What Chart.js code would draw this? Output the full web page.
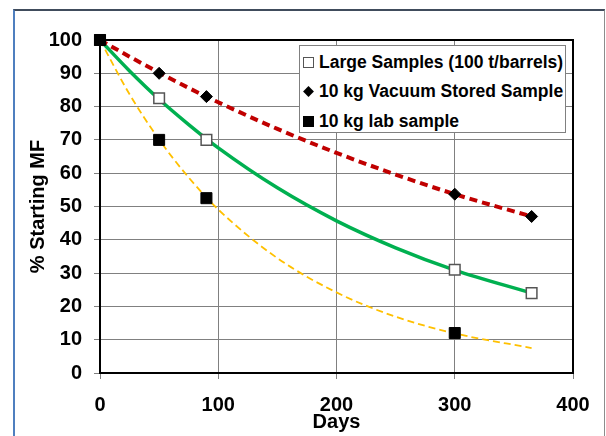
<!DOCTYPE html>
<html>
<head>
<meta charset="utf-8">
<script src="https://cdn.jsdelivr.net/npm/chart.js@4.4.1/dist/chart.umd.min.js"></script>
<style>
    body { margin: 0; background: #fff; }
    #wrap { position: relative; width: 606px; height: 436px; overflow: hidden; }
    #frame { position: absolute; left: 13px; top: 9px; width: 592px; height: 440px; box-sizing: border-box;
             border-left: 2px solid #4f7fbf; border-top: 2px solid #404c5c; border-right: 1px solid #8c8c8c; }
    #chart { position: absolute; left: 0; top: 0; }
    #legend { position: absolute; left: 299px; top: 45px; width: 267px; height: 88px; box-sizing: border-box;
              border: 1px solid #808080; background: #fff;
              font: bold 17.5px "Liberation Sans", Arial, sans-serif; color: #000; }
    .row { position: absolute; left: 3px; height: 22px; display: flex; align-items: center; white-space: nowrap; }
    .mk { width: 11px; height: 11px; margin-right: 5px; box-sizing: border-box; flex: none; }
</style>
</head>
<body>
<div id="wrap">
    <div id="frame"></div>
    <canvas id="chart" width="606" height="436"></canvas>
    <div id="legend"></div>
</div>
<script>
// measured points (days, % starting MF)
const days = [0, 50, 90, 300, 365];
const largeSamples = [100, 82.5, 70, 31, 24];
const vacuumSample = [100, 90, 83, 53.7, 47];
const labDays = [0, 50, 90, 300];
const labSample = [100, 70, 52.5, 12];

// trendlines
const trendDays = [0, 25, 50, 75, 100, 150, 200, 250, 300, 365];
const largeTrend = [100, 90.7, 82.2, 74.6, 67.6, 55.6, 45.7, 37.6, 30.9, 24];
const vacuumTrend = [100, 95, 90.2, 85.6, 81.3, 73.3, 66.1, 59.6, 53.7, 47];
const labTrend = [100, 83.7, 70.1, 58.7, 49.1, 34.5, 24.2, 16.9, 11.9, 7.5];

const labels = ['Large Samples (100 t/barrels)', '10 kg Vacuum Stored Sample', '10 kg lab sample'];

const xTicks = [0, 100, 200, 300, 400];
const yTicks = [0, 10, 20, 30, 40, 50, 60, 70, 80, 90, 100];

const pts = (xs, ys) => xs.map((x, i) => ({ x: x, y: ys[i] }));
const font = { family: '"Liberation Sans", Arial, sans-serif', size: 20, weight: 'bold' };

const plotBorder = {
    id: 'plotBorder',
    beforeDatasetsDraw(chart) {
        const a = chart.chartArea;
        const c = chart.ctx;
        c.save();
        c.strokeStyle = '#000';
        c.lineWidth = 2;
        c.strokeRect(a.left, a.top, a.right - a.left, a.bottom - a.top);
        c.restore();
    }
};

function trend(data, color, width, dash) {
    return {
        data: data, showLine: true, borderColor: color, borderWidth: width, borderDash: dash,
        pointRadius: 0, cubicInterpolationMode: 'monotone', fill: false, order: 5, clip: false
    };
}

const chart = new Chart(document.getElementById('chart').getContext('2d'), {
    type: 'scatter',
    data: {
        datasets: [
            { label: labels[2], data: pts(labDays, labSample), pointStyle: 'rect', pointRadius: 7.8,
              backgroundColor: '#000', borderColor: '#000', borderWidth: 1, order: 0, clip: false },
            { label: labels[1], data: pts(days, vacuumSample), pointStyle: 'rectRot', pointRadius: 6,
              backgroundColor: '#000', borderColor: '#000', borderWidth: 1, order: 1, clip: false },
            { label: labels[0], data: pts(days, largeSamples), pointStyle: 'rect', pointRadius: 7.5,
              backgroundColor: '#fff', borderColor: '#555', borderWidth: 1.5, order: 2, clip: false },
            trend(pts(trendDays, vacuumTrend), '#c00000', 4, [8, 5]),
            trend(pts(trendDays, largeTrend), '#00b050', 3.5, []),
            trend(pts(trendDays, labTrend), '#ffc000', 1.8, [7, 4])
        ]
    },
    options: {
        responsive: false,
        animation: false,
        layout: { padding: { left: 26, right: 33, top: 40, bottom: 0 } },
        plugins: { legend: { display: false }, tooltip: { enabled: false } },
        scales: {
            x: {
                type: 'linear', min: 0, max: 400,
                afterFit: s => { s.height = 63; },
                afterBuildTicks: s => { s.ticks = xTicks.map(v => ({ value: v })); },
                ticks: { padding: 14, color: '#000', font: font },
                grid: { color: '#808080', tickColor: '#808080', tickLength: 6 },
                border: { display: false },
                title: { display: true, text: 'Days', color: '#000', font: font, padding: { top: 0, bottom: 2 } }
            },
            y: {
                min: 0, max: 100,
                afterFit: s => { s.width = 74; },
                afterBuildTicks: s => { s.ticks = yTicks.map(v => ({ value: v })); },
                ticks: { padding: 12, color: '#000', font: font },
                grid: { color: '#808080', tickColor: '#808080', tickLength: 6 },
                border: { display: false },
                title: { display: true, text: '% Starting MF', color: '#000', font: font, padding: { top: 0, bottom: 0 } }
            }
        }
    },
    plugins: [plotBorder]
});

// legend in the top right corner of the plot
const markers = [
    'background:#fff;border:1px solid #555;',
    'background:#000;width:9px;height:9px;margin:0 6px 0 1px;transform:rotate(45deg) scale(0.85,0.85);',
    'background:#000;'
];
const legend = document.getElementById('legend');
labels.forEach((text, i) => {
    const row = document.createElement('div');
    row.className = 'row';
    row.style.top = (5 + i * 29.5) + 'px';
    row.innerHTML = '<span class="mk" style="' + markers[i] + '"></span><span>' + text + '</span>';
    legend.appendChild(row);
});
</script>
</body>
</html>
